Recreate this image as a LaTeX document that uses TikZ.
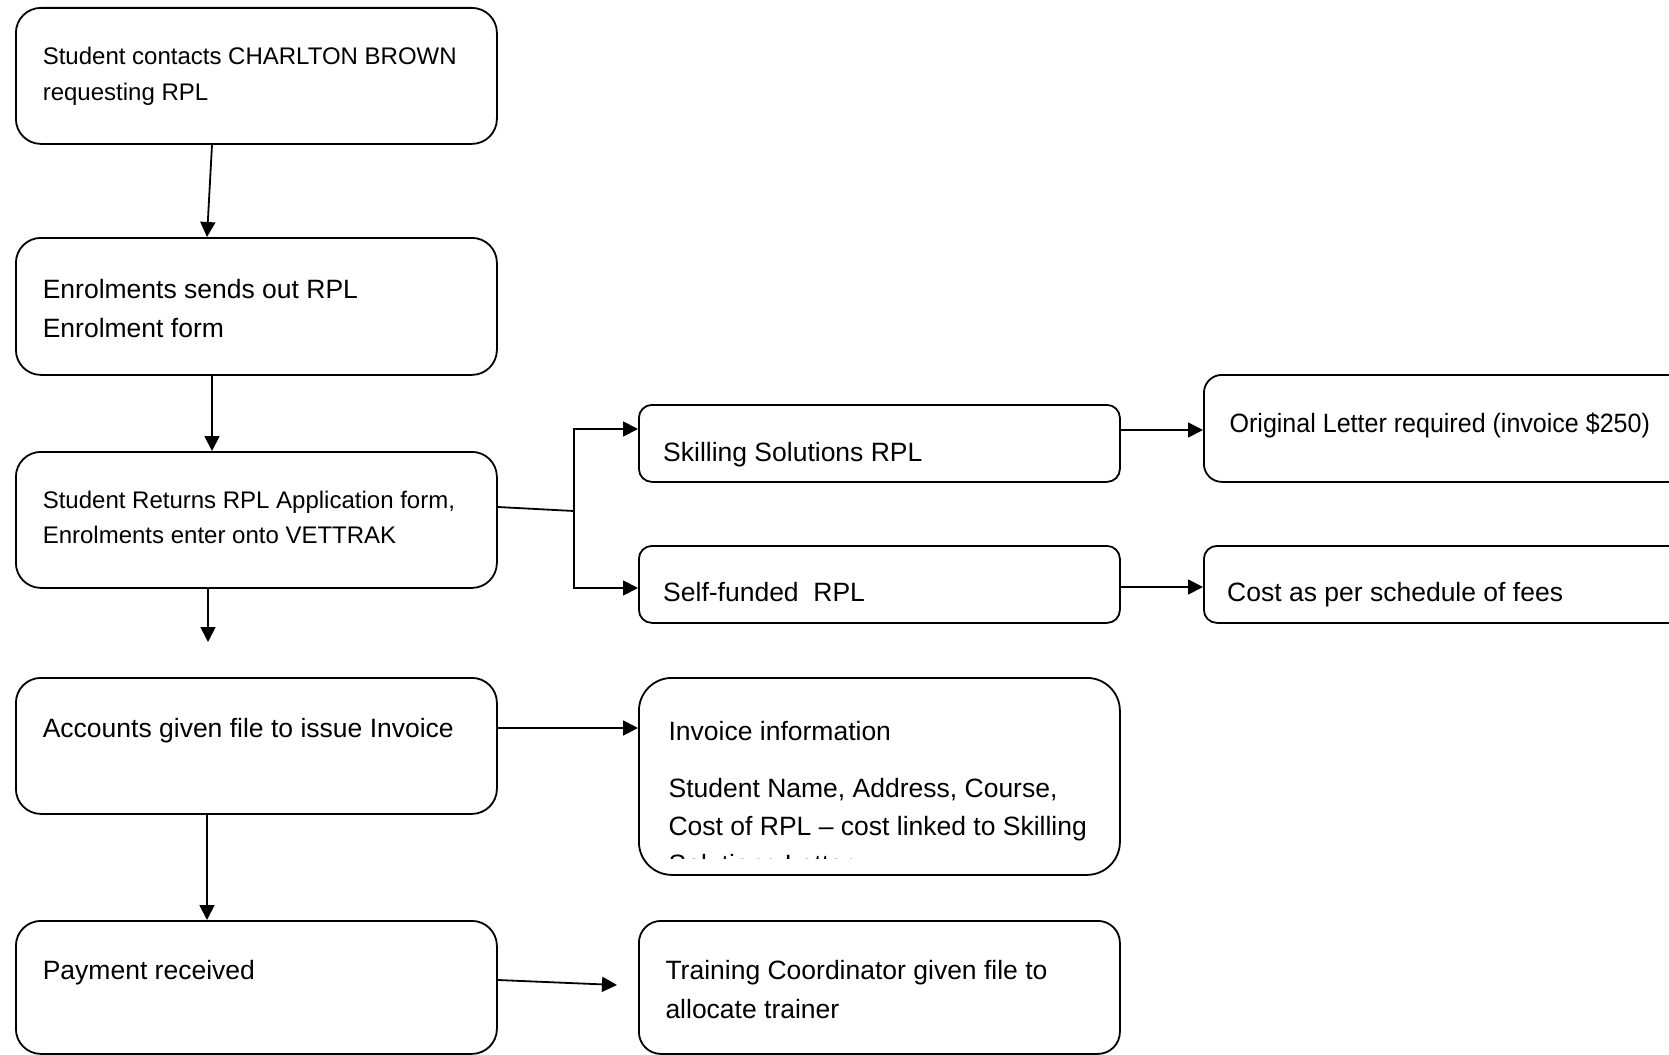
\documentclass[tikz,border=0pt]{standalone}
\usepackage{fontspec}
\setmainfont{Liberation Sans}
\usetikzlibrary{arrows.meta,calc}
\newcommand{\bigtxt}{\fontsize{26.5}{39}\selectfont}
\newcommand{\smalltxt}{\fontsize{24}{36}\selectfont}
\newcommand{\smalltxtc}{\fontsize{24}{35}\selectfont}
\begin{document}
\begin{tikzpicture}[x=1pt,y=-1pt,
  box/.style={draw=black,line width=1.8pt,rounded corners=25pt,anchor=north west,inner sep=0pt,fill=white},
  sbox/.style={box,rounded corners=13pt},
  txt/.style={inner sep=0pt,anchor=base west},
  arr/.style={draw=black,line width=1.8pt,-{Triangle[length=15pt,width=15pt]}},
  conn/.style={draw=black,line width=1.8pt}]
\useasboundingbox (0,0) rectangle (1669,1054);
\fill[white] (0,0) rectangle (1669,1054);
\clip (0,0) rectangle (1669,1054);
% boxes
\node[box,minimum width=481pt,minimum height=136pt] (a) at (15,7) {};
\node[box,minimum width=481pt,minimum height=137pt] (b) at (15,237) {};
\node[box,minimum width=481pt,minimum height=136pt] (c) at (15,451) {};
\node[box,minimum width=481pt,minimum height=136pt] (d) at (15,677) {};
\node[box,minimum width=481pt,minimum height=133pt] (e) at (15,920) {};
\node[sbox,minimum width=481pt,minimum height=77pt] (s1) at (638,404) {};
\node[sbox,minimum width=481pt,minimum height=77pt] (s2) at (638,545) {};
\node[box,rounded corners=33pt,minimum width=481pt,minimum height=197pt] (inv) at (638,677) {};
\node[box,rounded corners=22pt,minimum width=481pt,minimum height=133pt] (tr) at (638,920) {};
\node[box,rounded corners=18pt,minimum width=500pt,minimum height=107pt] (orig) at (1203,374) {};
\node[sbox,minimum width=500pt,minimum height=77pt] (cost) at (1203,545) {};
% texts
\node[txt] (at) at (42.6,64.5) {\parbox[t]{450pt}{\smalltxt Student contacts CHARLTON BROWN\\requesting RPL}};
\node[txt] (bt) at (42.6,298) {\parbox[t]{450pt}{\bigtxt Enrolments sends out RPL\\Enrolment form}};
\node[txt] (ct) at (42.6,508.5) {\parbox[t]{450pt}{\smalltxtc Student Returns RPL Application form,\\Enrolments enter onto VETTRAK}};
\node[txt] (dt) at (42.6,737) {\bigtxt Accounts given file to issue Invoice};
\node[txt] (et) at (42.6,979.5) {\bigtxt Payment received};
\node[txt] (s1t) at (663,461) {\bigtxt Skilling Solutions RPL};
\node[txt] (s2t) at (663,601.5) {\bigtxt Self-funded\ \ RPL};
\node[txt] (origt) at (1229.4,432) {\scalebox{0.945}[1]{\bigtxt Original Letter required (invoice \$250)}};
\node[txt] (costt) at (1227,601.5) {\bigtxt Cost as per schedule of fees};
\begin{scope}
\clip (638,677) rectangle (1119,858);
\node[txt] (invt) at (668.4,740.5) {\parbox[t]{440pt}{\fontsize{26.5}{38}\selectfont Invoice information\par\vspace{19pt}Student Name, Address, Course,\\Cost of RPL – cost linked to Skilling\\Solutions Letter}};
\end{scope}
\node[txt] (trt) at (665.3,979.5) {\parbox[t]{440pt}{\bigtxt Training Coordinator given file to\\allocate trainer}};
% connectors
\coordinate (cend) at (208,642);
\coordinate (eend) at (617,985);
\coordinate (split) at (574,511);
\draw[arr] ($(a.south west)+(197,0)$) -- ($(b.north west)+(192,0)$);
\draw[arr] ($(b.south west)+(197,0)$) -- ($(c.north west)+(197,0)$);
\draw[arr] ($(c.south west)+(193,0)$) -- (cend);
\draw[arr] ($(d.south west)+(192,0)$) -- ($(e.north west)+(192,0)$);
\draw[arr] ($(d.north east)+(0,51)$) -- ($(inv.north west)+(0,51)$);
\draw[arr] ($(e.north east)+(0,60)$) -- (eend);
\draw[conn] ($(c.north east)+(0,56)$) -- (split);
\draw[arr] (split) |- ($(s1.north west)+(0,25)$);
\draw[arr] (split) |- ($(s2.north west)+(0,43)$);
\draw[arr] ($(s1.north east)+(0,26)$) -- ($(orig.north west)+(0,56)$);
\draw[arr] ($(s2.north east)+(0,42)$) -- ($(cost.north west)+(0,42)$);
\end{tikzpicture}
\end{document}
